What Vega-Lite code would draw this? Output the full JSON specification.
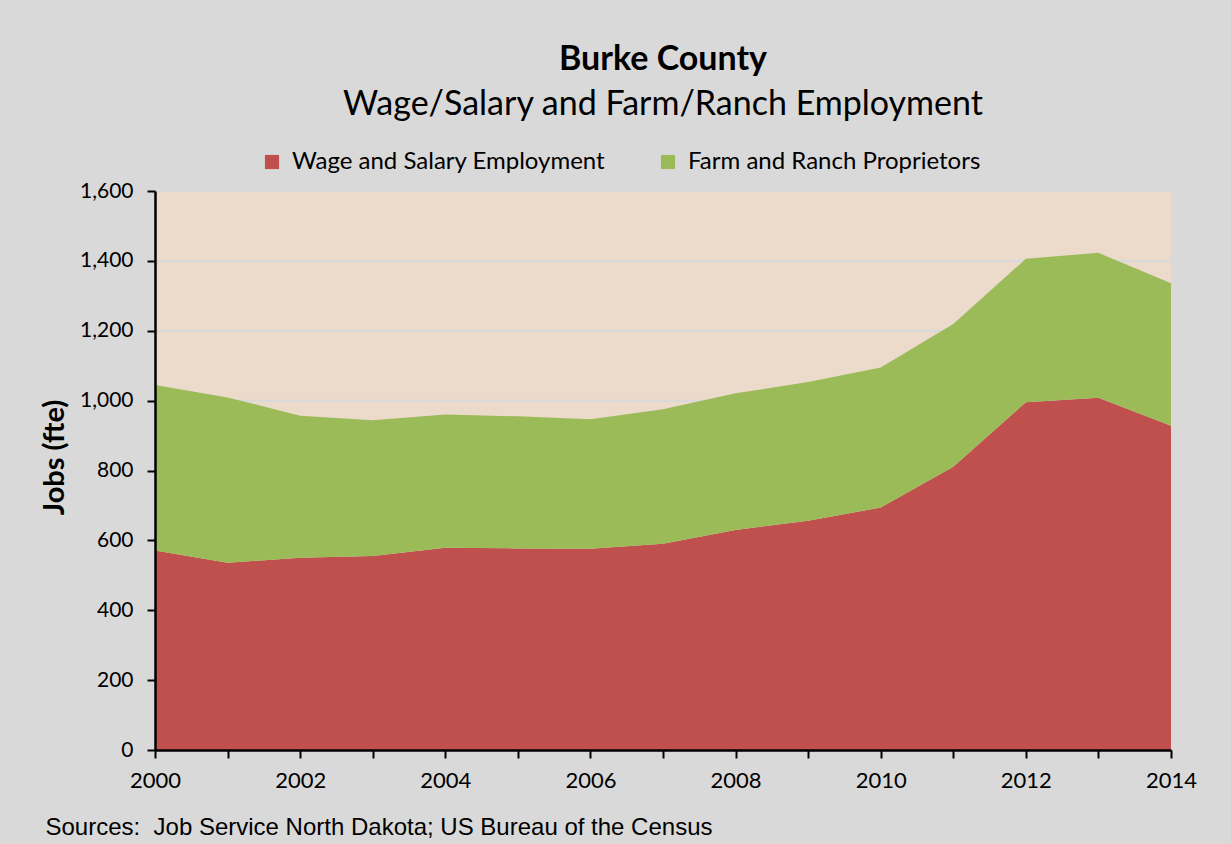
{
  "$schema": "https://vega.github.io/schema/vega-lite/v6.json",
  "width": 1016,
  "height": 559,
  "autosize": {"type": "pad"},
  "padding": {"left": 40, "top": 43, "right": 40, "bottom": 10},
  "background": "#d9d9d9",
  "title": {
    "text": "Burke County",
    "subtitle": "Wage/Salary and Farm/Ranch Employment",
    "anchor": "middle",
    "font": "Lato",
    "fontSize": 34,
    "fontWeight": "bold",
    "color": "#000000",
    "subtitleFont": "Lato",
    "subtitleFontSize": 34,
    "subtitleColor": "#000000",
    "subtitlePadding": 11,
    "offset": 28
  },
  "config": {
    "view": {"fill": "#ecdacb", "stroke": null}
  },
  "layer": [
    {
      "data": {
        "values": [
          {"level": 200}, {"level": 400}, {"level": 600}, {"level": 800},
          {"level": 1000}, {"level": 1200}, {"level": 1400}, {"level": 1600}
        ]
      },
      "mark": {"type": "rule", "color": "#d9d9d9", "strokeWidth": 2.5},
      "encoding": {
        "y": {"field": "level", "type": "quantitative"}
      }
    },
    {
      "data": {
        "values": [
          {"year": 2000, "series": "Wage and Salary Employment", "jobs": 571},
          {"year": 2001, "series": "Wage and Salary Employment", "jobs": 536},
          {"year": 2002, "series": "Wage and Salary Employment", "jobs": 550},
          {"year": 2003, "series": "Wage and Salary Employment", "jobs": 555},
          {"year": 2004, "series": "Wage and Salary Employment", "jobs": 579},
          {"year": 2005, "series": "Wage and Salary Employment", "jobs": 577},
          {"year": 2006, "series": "Wage and Salary Employment", "jobs": 576},
          {"year": 2007, "series": "Wage and Salary Employment", "jobs": 590},
          {"year": 2008, "series": "Wage and Salary Employment", "jobs": 630},
          {"year": 2009, "series": "Wage and Salary Employment", "jobs": 656},
          {"year": 2010, "series": "Wage and Salary Employment", "jobs": 694},
          {"year": 2011, "series": "Wage and Salary Employment", "jobs": 811},
          {"year": 2012, "series": "Wage and Salary Employment", "jobs": 995},
          {"year": 2013, "series": "Wage and Salary Employment", "jobs": 1008},
          {"year": 2014, "series": "Wage and Salary Employment", "jobs": 928},
          {"year": 2000, "series": "Farm and Ranch Proprietors", "jobs": 474},
          {"year": 2001, "series": "Farm and Ranch Proprietors", "jobs": 473},
          {"year": 2002, "series": "Farm and Ranch Proprietors", "jobs": 407},
          {"year": 2003, "series": "Farm and Ranch Proprietors", "jobs": 389},
          {"year": 2004, "series": "Farm and Ranch Proprietors", "jobs": 381},
          {"year": 2005, "series": "Farm and Ranch Proprietors", "jobs": 378},
          {"year": 2006, "series": "Farm and Ranch Proprietors", "jobs": 371},
          {"year": 2007, "series": "Farm and Ranch Proprietors", "jobs": 385},
          {"year": 2008, "series": "Farm and Ranch Proprietors", "jobs": 391},
          {"year": 2009, "series": "Farm and Ranch Proprietors", "jobs": 397},
          {"year": 2010, "series": "Farm and Ranch Proprietors", "jobs": 401},
          {"year": 2011, "series": "Farm and Ranch Proprietors", "jobs": 408},
          {"year": 2012, "series": "Farm and Ranch Proprietors", "jobs": 411},
          {"year": 2013, "series": "Farm and Ranch Proprietors", "jobs": 415},
          {"year": 2014, "series": "Farm and Ranch Proprietors", "jobs": 408}
        ]
      },
      "mark": {"type": "area", "opacity": 1},
      "encoding": {
        "x": {
          "field": "year",
          "type": "quantitative",
          "scale": {"domain": [2000, 2014], "nice": false, "zero": false},
          "axis": {
            "values": [2000, 2001, 2002, 2003, 2004, 2005, 2006, 2007, 2008, 2009, 2010, 2011, 2012, 2013, 2014],
            "format": "d",
            "labelExpr": "datum.value % 2 == 0 ? datum.label : ''",
            "labelFont": "Lato",
            "labelFontSize": 22,
            "labelColor": "#000000",
            "labelPadding": 12,
            "labelFlush": false,
            "labelOverlap": false,
            "grid": false,
            "zindex": 1,
            "domainColor": "#000000",
            "domainWidth": 2.5,
            "tickColor": "#000000",
            "tickWidth": 2,
            "tickSize": 8,
            "title": "Sources:\u00a0\u00a0Job Service North Dakota; US Bureau of the Census",
            "titleFont": "Liberation Sans",
            "titleFontSize": 24,
            "titleFontWeight": "normal",
            "titleColor": "#000000",
            "titleAnchor": "start",
            "titleAlign": "left",
            "titleX": -110,
            "titleY": 65
          }
        },
        "y": {
          "field": "jobs",
          "type": "quantitative",
          "stack": "zero",
          "scale": {"domain": [0, 1600], "nice": false},
          "axis": {
            "values": [0, 200, 400, 600, 800, 1000, 1200, 1400, 1600],
            "format": ",d",
            "labelFont": "Lato",
            "labelFontSize": 21,
            "labelColor": "#000000",
            "labelPadding": 14,
            "grid": false,
            "zindex": 1,
            "domainColor": "#000000",
            "domainWidth": 2.5,
            "tickColor": "#000000",
            "tickWidth": 2,
            "tickSize": 8,
            "title": "Jobs (fte)",
            "titleFont": "Lato",
            "titleFontSize": 29,
            "titleFontWeight": "bold",
            "titleColor": "#000000",
            "titlePadding": 10,
            "titleY": 266
          }
        },
        "color": {
          "field": "series",
          "type": "nominal",
          "scale": {
            "domain": ["Wage and Salary Employment", "Farm and Ranch Proprietors"],
            "range": ["#c0504d", "#9bbb59"]
          },
          "legend": {
            "title": null,
            "orient": "none",
            "direction": "horizontal",
            "legendX": 105,
            "legendY": -41,
            "symbolType": "square",
            "symbolSize": 200,
            "symbolStrokeWidth": 0,
            "symbolOpacity": 1,
            "labelFont": "Lato",
            "labelFontSize": 24,
            "labelLimit": 500,
            "labelColor": "#000000",
            "labelOffset": 8,
            "columnPadding": 50
          }
        },
        "order": {"field": "series", "sort": "descending"}
      }
    }
  ]
}
